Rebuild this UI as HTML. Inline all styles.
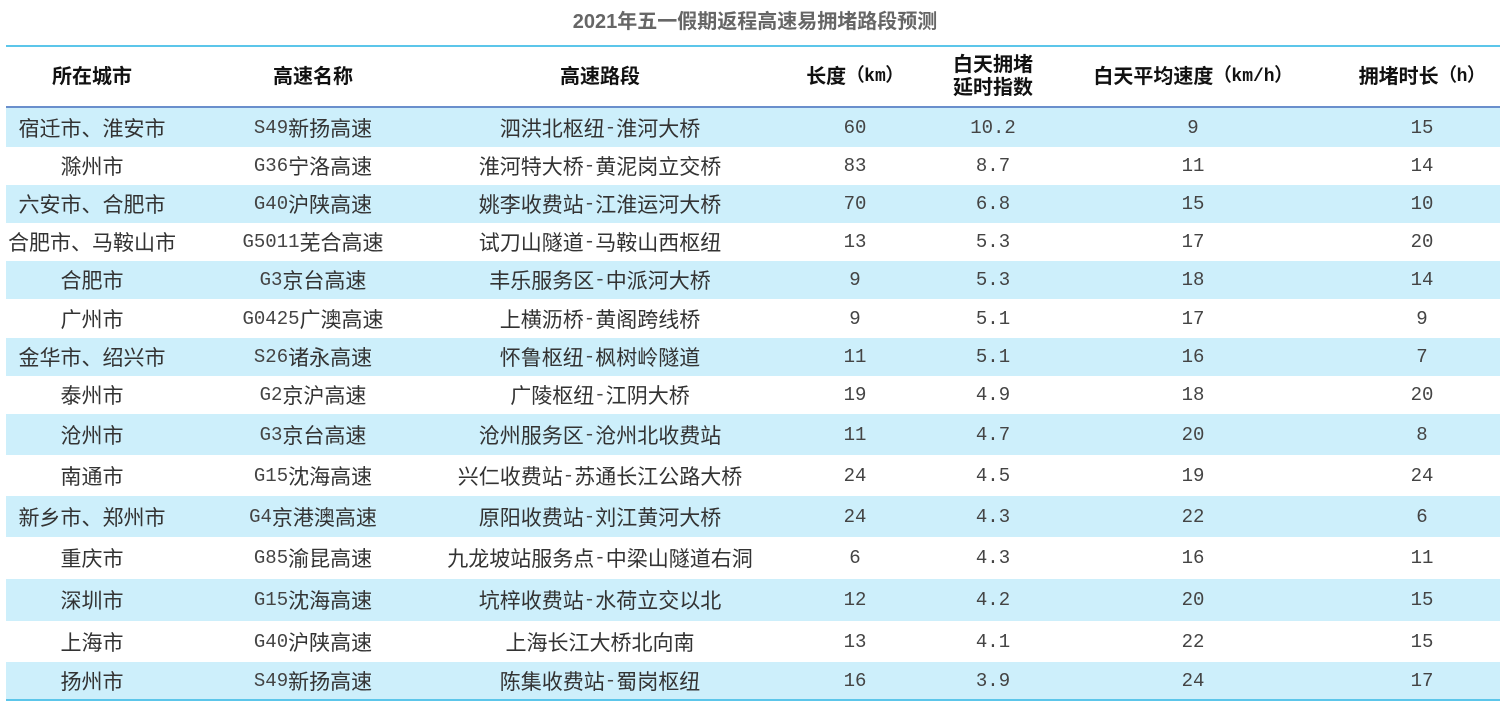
<!DOCTYPE html>
<html><head><meta charset="utf-8"><style>
body{margin:0;width:1510px;height:716px;background:#fff;position:relative;overflow:hidden;font-family:"Liberation Sans","Noto Sans CJK SC",sans-serif;}
.t{position:absolute;top:5px;left:0;width:1510px;text-align:center;font-size:20px;font-weight:bold;color:#666;}
.line{position:absolute;left:6px;width:1494px;}
.row{position:absolute;left:6px;width:1494px;}
.c{position:absolute;top:0;height:100%;display:flex;align-items:center;justify-content:center;white-space:nowrap;font-size:21px;color:#333;font-family:"Liberation Mono","Noto Sans CJK SC",monospace;}
.c b{font-weight:normal;font-size:19px;color:#444;}
.h .c{font-weight:bold;color:#111;font-size:20px;line-height:23px;text-align:center;font-family:"Liberation Sans","Noto Sans CJK SC",sans-serif;}
.h .c span{font-family:"Liberation Mono",monospace;font-weight:bold;font-size:18px;}
.a{background:#cdeffb;}
</style></head><body>
<div class="t">2021年五一假期返程高速易拥堵路段预测</div>
<div class="line" style="top:45px;height:2px;background:#5cc6ea"></div>
<div class="row h" style="top:47px;height:60px">
<div class="c" style="left:0;width:172px">所在城市</div>
<div class="c" style="left:207px;width:200px">高速名称</div>
<div class="c" style="left:444px;width:300px">高速路段</div>
<div class="c" style="left:769px;width:160px">长度<span>（km）</span></div>
<div class="c" style="left:927px;width:120px">白天拥堵<br>延时指数</div>
<div class="c" style="left:1047px;width:280px">白天平均速度<span>（km/h）</span></div>
<div class="c" style="left:1336px;width:160px">拥堵时长<span>（h）</span></div>
</div>
<div class="line" style="top:106px;height:2px;background:#6a8fcc"></div>
<div id="rows"></div>
<div class="line" style="top:699px;height:2px;background:#5cc6ea"></div>
<script>
var d=[["宿迁市、淮安市","S49新扬高速","泗洪北枢纽-淮河大桥","60","10.2","9","15"],
["滁州市","G36宁洛高速","淮河特大桥-黄泥岗立交桥","83","8.7","11","14"],
["六安市、合肥市","G40沪陕高速","姚李收费站-江淮运河大桥","70","6.8","15","10"],
["合肥市、马鞍山市","G5011芜合高速","试刀山隧道-马鞍山西枢纽","13","5.3","17","20"],
["合肥市","G3京台高速","丰乐服务区-中派河大桥","9","5.3","18","14"],
["广州市","G0425广澳高速","上横沥桥-黄阁跨线桥","9","5.1","17","9"],
["金华市、绍兴市","S26诸永高速","怀鲁枢纽-枫树岭隧道","11","5.1","16","7"],
["泰州市","G2京沪高速","广陵枢纽-江阴大桥","19","4.9","18","20"],
["沧州市","G3京台高速","沧州服务区-沧州北收费站","11","4.7","20","8"],
["南通市","G15沈海高速","兴仁收费站-苏通长江公路大桥","24","4.5","19","24"],
["新乡市、郑州市","G4京港澳高速","原阳收费站-刘江黄河大桥","24","4.3","22","6"],
["重庆市","G85渝昆高速","九龙坡站服务点-中梁山隧道右洞","6","4.3","16","11"],
["深圳市","G15沈海高速","坑梓收费站-水荷立交以北","12","4.2","20","15"],
["上海市","G40沪陕高速","上海长江大桥北向南","13","4.1","22","15"],
["扬州市","S49新扬高速","陈集收费站-蜀岗枢纽","16","3.9","24","17"]];
var b=[108,147,185,223,261,299,338,376,414,455,496,537,579,621,662,699];
var cols=[[0,172],[207,200],[444,300],[769,160],[927,120],[1047,280],[1336,160]];
function w(s){return s.replace(/([A-Za-z0-9.\-]+)/g,'<b>$1</b>');}
var h="";
d.forEach(function(r,i){
h+='<div class="row'+(i%2==0?' a':'')+'" style="top:'+b[i]+'px;height:'+(b[i+1]-b[i])+'px">';
r.forEach(function(v,j){h+='<div class="c" style="left:'+cols[j][0]+'px;width:'+cols[j][1]+'px">'+w(v)+'</div>';});
h+='</div>';});
document.getElementById('rows').innerHTML=h;
</script>
</body></html>
